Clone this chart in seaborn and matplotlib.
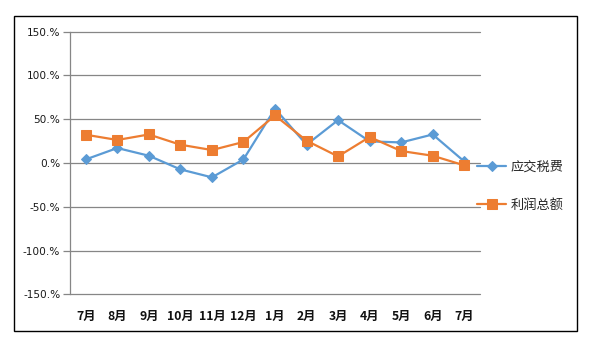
import matplotlib
matplotlib.use("Agg")
import matplotlib.pyplot as plt
import seaborn as sns
import pandas as pd
import numpy as np
from matplotlib.patches import Rectangle
from matplotlib.ticker import FuncFormatter

months = ["7月", "8月", "9月", "10月", "11月", "12月", "1月", "2月", "3月", "4月", "5月", "6月", "7月"]
tax = [4.1, 17.1, 8.3, -7.3, -16.4, 4.1, 62.0, 20.9, 49.0, 24.7, 23.5, 32.6, 1.8]
profit = [32.3, 26.3, 32.6, 20.9, 14.8, 24.0, 54.3, 25.5, 7.5, 29.7, 13.7, 8.3, -2.7]
series_names = ["应交税费", "利润总额"]
yticks = [-150, -100, -50, 0, 50, 100, 150]

sns.set_theme(style="white")
plt.rcParams["font.family"] = ["Noto Sans CJK SC", "DejaVu Sans"]

W, H = 593, 344
fig = plt.figure(figsize=(W / 100, H / 100), dpi=100)
ax = fig.add_axes([70 / W, (H - 294.3) / H, (480 - 70) / W, (294.3 - 31.7) / H])

pos = np.arange(len(months))
df = pd.DataFrame({"pos": pos, "tax": tax, "profit": profit})

blue = "#5B9BD5"
orange = "#ED7D31"
sns.lineplot(data=df, x="pos", y="tax", ax=ax, color=blue, lw=1.6,
             marker="D", markersize=5, markeredgecolor=blue, label=series_names[0])
sns.lineplot(data=df, x="pos", y="profit", ax=ax, color=orange, lw=1.6,
             marker="s", markersize=6.5, markeredgecolor=orange, label=series_names[1])

ax.set_xlim(-0.5, len(months) - 0.5)
ax.set_ylim(-150, 150)
ax.set_yticks(yticks)
ax.yaxis.set_major_formatter(FuncFormatter(lambda v, p: f"{v:.0f}.%"))
ax.set_xticks(pos)
ax.set_xticklabels(months, fontweight="bold", fontsize=8.8)
for t in ax.get_yticklabels():
    t.set_fontsize(7.6)
    t.set_family(["DejaVu Sans"])
ax.set_xlabel("")
ax.set_ylabel("")
ax.grid(axis="y", color="#868686", lw=0.9)
for gl in ax.get_ygridlines():
    gl.set_clip_on(False)
ax.set_axisbelow(True)
for s in ["top", "right", "bottom"]:
    ax.spines[s].set_visible(False)
ax.spines["left"].set_color("#868686")
ax.spines["left"].set_linewidth(0.9)
ax.tick_params(axis="y", which="major", left=True, length=5, width=0.9, color="#868686",
               pad=2, labelcolor="#1a1a1a")
ax.tick_params(axis="x", bottom=False, pad=5, labelcolor="#111111")

leg = ax.legend(loc="center left", bbox_to_anchor=(472 / W, (H - 186) / H),
                bbox_transform=fig.transFigure, frameon=False, fontsize=9.5,
                handlelength=2.2, handletextpad=0.3, labelspacing=1.9, borderaxespad=0)

fig.patches.append(Rectangle((14 / W, (H - 331) / H), (577 - 14) / W, (331 - 16) / H,
                             transform=fig.transFigure, fill=False, ec="black", lw=1.0))

fig.savefig("out.png", dpi=100)
